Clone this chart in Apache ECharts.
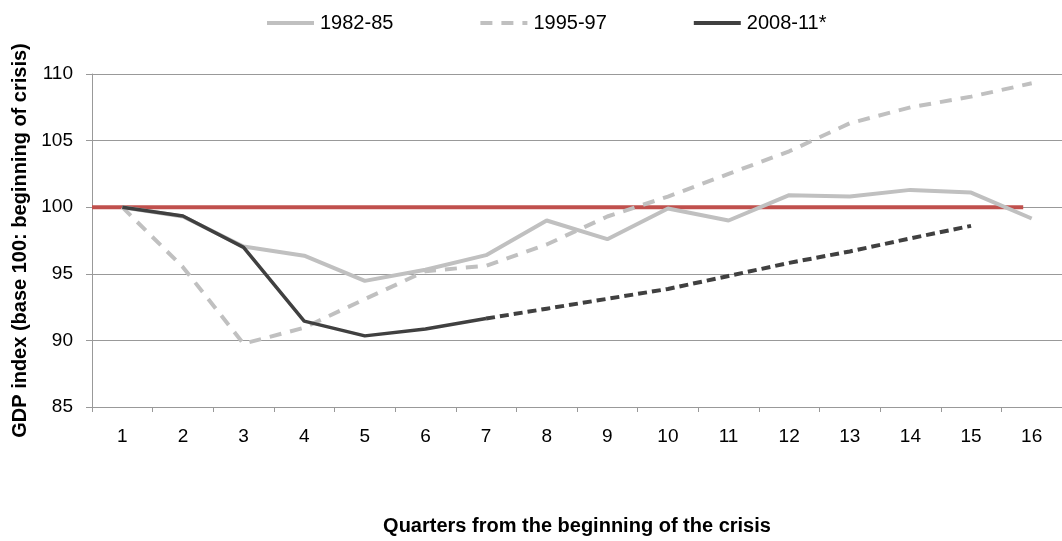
<!DOCTYPE html>
<html>
<head>
<meta charset="utf-8">
<script src="https://cdn.jsdelivr.net/npm/echarts@6/dist/echarts.min.js"></script>
<style>html,body{margin:0;padding:0;background:#fff}#c{width:1062px;height:541px}</style>
</head>
<body>
<div id="c"></div>
<script>
const categories = ['1','2','3','4','5','6','7','8','9','10','11','12','13','14','15','16'];
const s1982 = [100, 99.3, 97.05, 96.36, 94.47, 95.3, 96.4, 99.0, 97.6, 99.9, 99.0, 100.9, 100.8, 101.3, 101.1, 99.15];
const s1995 = [100, 95.5, 89.75, 90.95, 93.1, 95.2, 95.6, 97.2, 99.3, 100.8, 102.5, 104.2, 106.3, 107.5, 108.3, 109.3];
const s2008 = [100, 99.34, 96.98, 91.45, 90.34, 90.86, 91.64, null, null, null, null, null, null, null, null, null];
const s2008proj = [null, null, null, null, null, null, 91.64, 92.38, 93.12, 93.86, 94.84, 95.82, 96.68, 97.66, 98.6, null];
const refLine = [[0.5, 100], [15.86, 100]];
const yTicks = {min: 85, max: 110, interval: 5};
const names = ['1982-85', '1995-97', '2008-11*'];

const chart = echarts.init(document.getElementById('c'));
const font = 'Liberation Sans, Arial, sans-serif';
chart.setOption({
  animation: false,
  textStyle: {fontFamily: font},
  legend: {
    top: 8, left: 260,
    data: names,
    itemWidth: 47, itemHeight: 14, itemGap: 85,
    itemStyle: {opacity: 0},
    lineStyle: {width: 4},
    textStyle: {fontSize: 20, color: '#000', fontFamily: font, padding: [0, 0, 0, 1]}
  },
  grid: {left: 92, right: -6, top: 74, bottom: 128},
  xAxis: [{
    type: 'category', data: categories, boundaryGap: true,
    axisLine: {lineStyle: {color: '#999', width: 1}},
    axisTick: {show: true, length: 5, lineStyle: {color: '#999'}},
    axisLabel: {fontSize: 19, color: '#000', margin: 20, fontFamily: font},
    name: 'Quarters from the beginning of the crisis',
    nameLocation: 'middle', nameGap: 109,
    nameTextStyle: {fontSize: 20, fontWeight: 'bold', color: '#000', fontFamily: font}
  }, {
    type: 'value', min: 0.5, max: 16.5, show: false
  }],
  yAxis: {
    type: 'value', min: yTicks.min, max: yTicks.max, interval: yTicks.interval,
    axisLine: {show: true, lineStyle: {color: '#999', width: 1}},
    axisTick: {show: true, length: 6, lineStyle: {color: '#999'}},
    splitLine: {lineStyle: {color: '#999', width: 1}},
    axisLabel: {fontSize: 19, color: '#000', margin: 19, fontFamily: font},
    name: 'GDP index (base 100: beginning of crisis)',
    nameLocation: 'middle', nameGap: 50, nameRotate: 90,
    nameTextStyle: {fontSize: 20, fontWeight: 'bold', color: '#000', fontFamily: font}
  },
  series: [
    {name: 'ref', type: 'line', xAxisIndex: 1, data: refLine, symbol: 'none',
     lineStyle: {color: '#c0504d', width: 4}, z: 1, silent: true},
    {name: names[0], type: 'line', data: s1982, symbol: 'none',
     itemStyle: {color: '#c0c0c0'}, lineStyle: {color: '#c0c0c0', width: 4}, z: 2},
    {name: names[1], type: 'line', data: s1995, symbol: 'none',
     itemStyle: {color: '#c0c0c0'}, lineStyle: {color: '#c0c0c0', width: 4, type: [12, 9]}, z: 2},
    {name: names[2], type: 'line', data: s2008, symbol: 'none',
     itemStyle: {color: '#404040'}, lineStyle: {color: '#404040', width: 3.5}, z: 3},
    {name: 'proj', type: 'line', data: s2008proj, symbol: 'none',
     itemStyle: {color: '#404040'}, lineStyle: {color: '#404040', width: 4, type: [9, 5]}, z: 3}
  ]
});
</script>
</body>
</html>
